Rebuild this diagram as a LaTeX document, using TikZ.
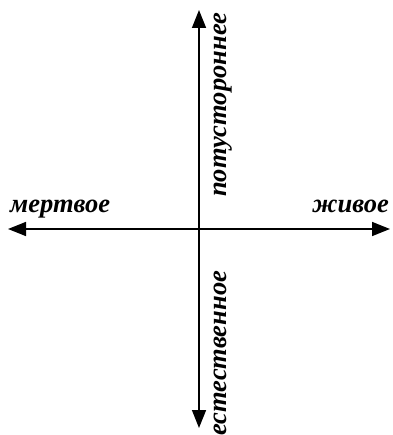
\documentclass[tikz,border=0pt]{standalone}
\usepackage{fontspec}
\setmainfont{Liberation Serif}
\usetikzlibrary{arrows.meta}
\begin{document}
\begin{tikzpicture}[x=1pt,y=-1pt,
  axis/.style={line width=1.5pt,-{Triangle[length=18pt,width=14pt]}},
  lbl/.style={inner sep=0pt,font=\fontsize{26.5}{26.5}\selectfont\bfseries\itshape}]
\useasboundingbox (0,0) rectangle (392,435);
\coordinate (c) at (199,229);
\coordinate (l) at (8,229);
\coordinate (r) at (390,229);
\coordinate (t) at (199,10);
\coordinate (b) at (199,428);
\draw[axis] (c) -- (l);
\draw[axis] (c) -- (r);
\draw[axis] (c) -- (t);
\draw[axis] (c) -- (b);
\node[lbl,anchor=base west] (dead) at (10,212) {мертвое};
\node[lbl,anchor=base east] (alive) at (389,212) {живое};
\node[lbl,rotate=90,anchor=base west] (other) at (226,197) {потустороннее};
\node[lbl,rotate=90,anchor=base west] (nat) at (226,436) {естественное};
\end{tikzpicture}
\end{document}
